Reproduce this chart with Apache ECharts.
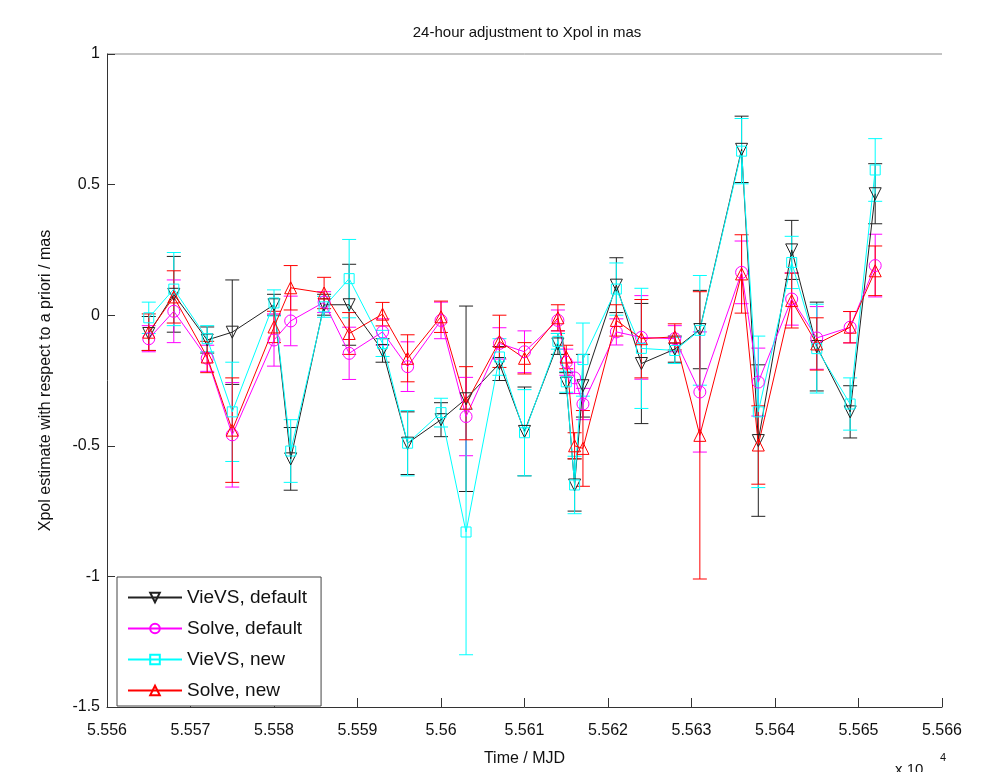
<!DOCTYPE html>
<html>
<head>
<meta charset="utf-8">
<script src="https://cdn.jsdelivr.net/npm/echarts@6/dist/echarts.min.js"></script>
<style>
  html, body { margin: 0; padding: 0; background: #fff; }
  #main { width: 1000px; height: 772px; }
</style>
</head>
<body>
<div id="main"></div>
<script>
// epochs (MJD)
var mjd = [55565, 55568, 55572, 55575, 55580, 55582, 55586, 55589, 55593, 55596,
  55600, 55603, 55607, 55610, 55614, 55615, 55616, 55617, 55621, 55624,
  55628, 55631, 55636, 55638, 55642, 55645, 55649, 55652];

// VieVS, default
var vievsDefault = [-0.07, 0.08, -0.095, -0.065, 0.04, -0.55, 0.04, 0.04, -0.135, -0.49,
  -0.40, -0.32, -0.185, -0.445, -0.11, -0.26, -0.65, -0.27, 0.115, -0.185,
  -0.13, -0.055, 0.635, -0.48, 0.25, -0.12, -0.37, 0.465];
var vievsDefaultErr = [0.065, 0.145, 0.05, 0.2, 0.04, 0.12, 0.04, 0.155, 0.045, 0.12,
  0.065, 0.355, 0.065, 0.17, 0.04, 0.04, 0.1, 0.12, 0.105, 0.23,
  0.05, 0.15, 0.127, 0.29, 0.113, 0.17, 0.1, 0.115];

// Solve, default
var solveDefault = [-0.09, 0.015, -0.165, -0.458, -0.095, -0.022, 0.05, -0.146, -0.064, -0.197,
  -0.02, -0.388, -0.108, -0.14, -0.02, -0.18, -0.24, -0.34, -0.064, -0.085,
  -0.09, -0.294, 0.164, -0.256, 0.062, -0.087, -0.046, 0.19];
var solveDefaultErr = [0.05, 0.12, 0.05, 0.2, 0.1, 0.095, 0.04, 0.1, 0.05, 0.095,
  0.07, 0.15, 0.06, 0.08, 0.04, 0.05, 0.06, 0.06, 0.05, 0.16,
  0.05, 0.23, 0.12, 0.13, 0.1, 0.12, 0.06, 0.12];

// VieVS, new
var vievsNew = [-0.01, 0.10, -0.09, -0.37, 0.047, -0.52, 0.032, 0.14, -0.108, -0.49,
  -0.373, -0.83, -0.16, -0.45, -0.10, -0.255, -0.65, -0.17, 0.10, -0.127,
  -0.135, -0.058, 0.628, -0.37, 0.202, -0.128, -0.34, 0.556];
var vievsNewErr = [0.06, 0.14, 0.05, 0.19, 0.05, 0.12, 0.04, 0.15, 0.05, 0.125,
  0.055, 0.47, 0.07, 0.165, 0.03, 0.04, 0.11, 0.14, 0.1, 0.23,
  0.05, 0.21, 0.125, 0.29, 0.1, 0.17, 0.1, 0.12];

// Solve, new
var solveNew = [-0.065, 0.07, -0.16, -0.44, -0.045, 0.105, 0.085, -0.07, 0.004, -0.165,
  -0.006, -0.337, -0.10, -0.165, -0.01, -0.16, -0.50, -0.51, -0.02, -0.09,
  -0.083, -0.46, 0.158, -0.497, 0.056, -0.11, -0.046, 0.17];
var solveNewErr = [0.07, 0.1, 0.06, 0.2, 0.06, 0.085, 0.06, 0.08, 0.045, 0.09,
  0.06, 0.14, 0.1, 0.06, 0.05, 0.045, 0.05, 0.145, 0.06, 0.15,
  0.05, 0.55, 0.15, 0.15, 0.105, 0.1, 0.06, 0.095];

var yTicks = [-1.5, -1, -0.5, 0, 0.5, 1];

var FONT = 'Liberation Sans';

var myChart = echarts.init(document.getElementById('main'));

// error bar as custom series (vertical line + two caps)
function errSeries(name, color, vals, errs) {
  var data = mjd.map(function (x, i) {
    return [x, vals[i] - errs[i], vals[i] + errs[i]];
  });
  return {
    name: name + ' err',
    type: 'custom',
    silent: true,
    data: data,
    encode: {x: 0, y: [1, 2]},
    renderItem: function (params, api) {
      var lo = api.coord([api.value(0), api.value(1)]);
      var hi = api.coord([api.value(0), api.value(2)]);
      var w = 7;
      var st = {stroke: color, lineWidth: 1};
      return {
        type: 'group',
        children: [
          {type: 'line', shape: {x1: lo[0], y1: lo[1], x2: hi[0], y2: hi[1]}, style: st},
          {type: 'line', shape: {x1: lo[0] - w, y1: lo[1], x2: lo[0] + w, y2: lo[1]}, style: st},
          {type: 'line', shape: {x1: hi[0] - w, y1: hi[1], x2: hi[0] + w, y2: hi[1]}, style: st}
        ]
      };
    }
  };
}

function lineSeries(name, color, vals, symbol, rotate, size) {
  return {
    name: name,
    type: 'line',
    data: mjd.map(function (x, i) { return [x, vals[i]]; }),
    symbol: symbol,
    symbolRotate: rotate,
    symbolSize: size,
    showAllSymbol: true,
    lineStyle: {color: color, width: 1},
    itemStyle: {color: 'rgba(255,255,255,0)', borderColor: color, borderWidth: 1},
    emphasis: {disabled: true}
  };
}

var series = [
  errSeries('VieVS, default', '#222222', vievsDefault, vievsDefaultErr),
  lineSeries('VieVS, default', '#222222', vievsDefault, 'triangle', 180, 12),
  errSeries('Solve, default', '#ff00ff', solveDefault, solveDefaultErr),
  lineSeries('Solve, default', '#ff00ff', solveDefault, 'circle', 0, 12),
  errSeries('VieVS, new', '#00ffff', vievsNew, vievsNewErr),
  lineSeries('VieVS, new', '#00ffff', vievsNew, 'rect', 0, 10),
  errSeries('Solve, new', '#ff0000', solveNew, solveNewErr),
  lineSeries('Solve, new', '#ff0000', solveNew, 'triangle', 0, 12)
];

var option = {
  backgroundColor: '#fff',
  animation: false,
  title: {
    text: '24-hour adjustment to Xpol in mas',
    left: 522, top: 20, textAlign: 'center',
    textStyle: {fontFamily: FONT, fontSize: 15, fontWeight: 'normal', color: '#111'}
  },
  legend: {
    orient: 'vertical',
    left: 117, top: 577,
    data: ['VieVS, default', 'Solve, default', 'VieVS, new', 'Solve, new'],
    itemWidth: 54, itemHeight: 12, itemGap: 12,
    padding: [11, 14, 6, 10],
    borderColor: '#444', borderWidth: 1,
    backgroundColor: '#fff',
    textStyle: {fontFamily: FONT, fontSize: 19, color: '#111'}
  },
  grid: {left: 107, right: 58, top: 54, bottom: 59},
  xAxis: {
    type: 'value',
    min: 55560, max: 55660, interval: 10,
    name: 'Time / MJD', nameLocation: 'middle', nameGap: 44,
    nameTextStyle: {fontFamily: FONT, fontSize: 16, color: '#111'},
    axisLine: {onZero: false, lineStyle: {color: '#333'}},
    axisTick: {inside: true, length: 9, lineStyle: {color: '#333'}},
    axisLabel: {
      fontFamily: FONT, fontSize: 16, color: '#111', margin: 16,
      formatter: function (v) { return String(+(v / 10000).toFixed(4)); }
    },
    splitLine: {show: false}
  },
  yAxis: {
    type: 'value',
    min: -1.5, max: 1, interval: 0.5,
    name: 'Xpol estimate with respect to a priori / mas',
    nameLocation: 'middle', nameGap: 53,
    nameTextStyle: {fontFamily: FONT, fontSize: 16, color: '#111'},
    axisLine: {show: true, onZero: false, lineStyle: {color: '#333'}},
    axisTick: {show: true, inside: true, length: 8, lineStyle: {color: '#333'}},
    axisLabel: {fontFamily: FONT, fontSize: 16, color: '#111', margin: 7,
      formatter: function (v) { return yTicks.indexOf(v) >= 0 ? String(v) : ''; }},
    splitLine: {show: false}
  },
  graphic: [
    {type: 'line', shape: {x1: 107, y1: 54, x2: 942, y2: 54}, style: {stroke: '#888', lineWidth: 1}},
    {type: 'text', left: 895, top: 762, style: {text: 'x 10', fontFamily: FONT, fontSize: 15, fill: '#111'}},
    {type: 'text', left: 940, top: 752, style: {text: '4', fontFamily: FONT, fontSize: 11, fill: '#111'}}
  ],
  series: series
};

myChart.setOption(option);
</script>
</body>
</html>
